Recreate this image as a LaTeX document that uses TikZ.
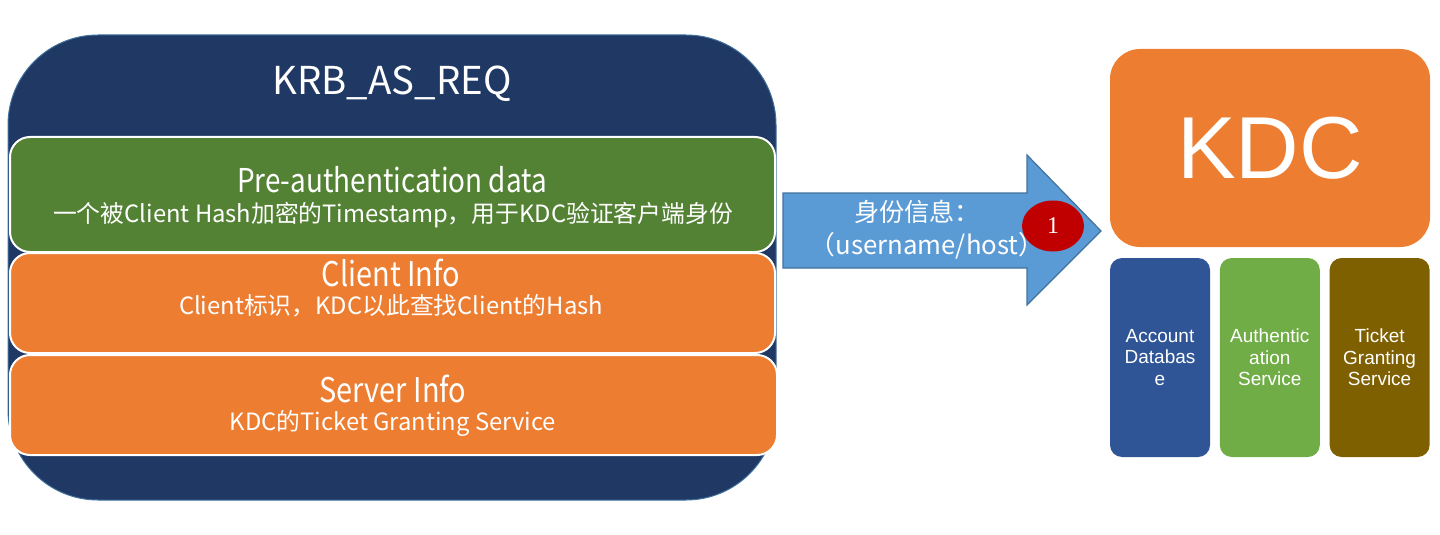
\documentclass[tikz,border=0pt]{standalone}
\usepackage{fontspec}
\setmainfont{Noto Sans CJK SC}
\newfontfamily\narrowfont[FakeStretch=0.85]{Noto Sans CJK SC}
\newfontfamily\arialfont{Liberation Sans}
\newfontfamily\numfont{Liberation Serif}
\usetikzlibrary{positioning,shapes.geometric}
\definecolor{reqblue}{HTML}{203864}
\definecolor{reqedge}{HTML}{41719C}
\definecolor{pagreen}{HTML}{548235}
\definecolor{infoorange}{HTML}{ED7D31}
\definecolor{msgblue}{HTML}{5B9BD5}
\definecolor{stepred}{HTML}{C00000}
\definecolor{acctblue}{HTML}{2F5597}
\definecolor{asgreen}{HTML}{70AD47}
\definecolor{tgsbrown}{HTML}{7F6000}
\tikzset{
  layer/.style={draw=white, line width=1pt, rounded corners=10pt, inner sep=0pt,
    minimum width=382.5pt, minimum height=50pt},
  layertitle/.style={text=white, inner sep=0pt, font=\narrowfont\fontsize{17}{20}\selectfont},
  layersub/.style={text=white, inner sep=0pt, font=\fontsize{11.9}{14}\selectfont},
  part/.style={rounded corners=6pt, inner sep=0pt, minimum width=50pt, minimum height=99.5pt,
    text=white, align=center, font=\arialfont\fontsize{9.5}{10.75}\selectfont},
}
\begin{document}
\begin{tikzpicture}[x=0.5pt,y=-0.5pt]
  \useasboundingbox (0,0) rectangle (1440,535);
  \node[fill=reqblue, draw=reqedge, line width=0.5pt, rounded corners=45pt, inner sep=0pt,
    minimum width=384pt, minimum height=232.5pt] (req) at (392,267.5) {};
  \node[text=white, inner sep=0pt, font=\fontsize{19.2}{23}\selectfont] (reqtitle) at (392,84) {KRB\_AS\_REQ};
  \node[layer, fill=pagreen, minimum height=57.5pt] (preauth) at (392.5,194.5) {};
  \node[layer, fill=infoorange] (client) at (392.5,303) {};
  \node[layer, fill=infoorange, minimum width=383.5pt] (server) at (393.5,405) {};
  \node[layertitle, font=\narrowfont\fontsize{16.4}{20}\selectfont] (preauthtitle) at (392,180) {Pre-authentication data};
  \node[layersub] (preauthsub) at (393,215) {一个被Client Hash加密的Timestamp，用于KDC验证客户端身份};
  \node[layertitle] (clienttitle) at (391,273) {Client Info};
  \node[layersub] (clientsub) at (391,306) {Client标识，KDC以此查找Client的Hash};
  \node[layertitle] (servertitle) at (393,389) {Server Info};
  \node[layersub] (serversub) at (393,423) {KDC的Ticket Granting Service};
  \draw[fill=msgblue, draw=reqedge, line width=0.6pt]
    (783,193) -- (1027,193) -- (1027,155) -- (1101,231) -- (1027,305) -- (1027,268) -- (783,268) -- cycle;
  \node[text=white, inner sep=0pt, font=\fontsize{12.6}{14}\selectfont] (msgtop) at (917,212) {身份信息：};
  \node[text=white, inner sep=0pt, font=\fontsize{12.9}{14}\selectfont] (msgbottom) at (927,246) {（username/host）};
  \node[ellipse, fill=stepred, inner sep=0pt, minimum width=31pt, minimum height=25.5pt,
    text=white, font=\numfont\fontsize{12}{14}\selectfont] (step1) at (1053,226) {1};
  \node[fill=infoorange, rounded corners=15pt, inner sep=0pt, minimum width=160pt, minimum height=99pt,
    text=white, font=\arialfont\fontsize{44}{50}\selectfont] (kdc) at (1270,148) {KDC};
  \node[part, fill=acctblue] (acct) at (1160,357.5) {Account\\Databas\\e};
  \node[part, fill=asgreen, right=4.5pt of acct] (as) {Authentic\\ation\\Service};
  \node[part, fill=tgsbrown, right=4.5pt of as] (tgs) {Ticket\\Granting\\Service};
\end{tikzpicture}
\end{document}
